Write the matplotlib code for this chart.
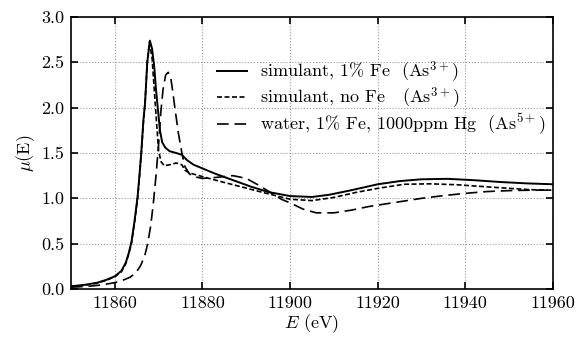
import matplotlib
matplotlib.use('Agg')
import matplotlib.pyplot as plt
import numpy as np

plt.rcParams['font.family'] = 'serif'
plt.rcParams['font.serif'] = ['cmr10']
plt.rcParams['mathtext.fontset'] = 'cm'
plt.rcParams['axes.formatter.use_mathtext'] = True
plt.rcParams['font.size'] = 13

# simulant, 1% Fe (As3+)
E_fe = [11850, 11853, 11856, 11858, 11860, 11861.5, 11862.5, 11863.2, 11863.8, 11864.5,
        11865.2, 11865.7, 11866.1, 11866.5, 11866.9, 11867.4, 11868, 11868.5, 11869, 11869.4,
        11869.8, 11870.3, 11870.8, 11871.5, 11872.5, 11874, 11875.3, 11876.5, 11878, 11880,
        11883, 11887, 11891, 11895, 11900, 11905, 11909, 11914, 11920, 11925,
        11930, 11936, 11942, 11948, 11954, 11960]
mu_fe = [0.03, 0.045, 0.07, 0.10, 0.14, 0.2, 0.29, 0.4, 0.52, 0.75,
         1.02, 1.3, 1.55, 1.85, 2.05, 2.5, 2.74, 2.65, 2.45, 2.2,
         2.0, 1.75, 1.62, 1.56, 1.52, 1.5, 1.48, 1.42, 1.37, 1.33,
         1.27, 1.20, 1.13, 1.07, 1.025, 1.015, 1.04, 1.09, 1.155, 1.19,
         1.21, 1.215, 1.20, 1.18, 1.165, 1.155]

# simulant, no Fe (As3+)
E_nofe = [11850, 11853, 11856, 11858, 11860, 11861.5, 11862.5, 11863.2, 11863.8, 11864.5,
          11865.2, 11865.7, 11866.1, 11866.5, 11866.9, 11867.4, 11867.9, 11868.5, 11869, 11869.5,
          11870, 11870.6, 11871.3, 11872.5, 11874, 11875.3, 11876, 11877, 11878.5, 11880,
          11883, 11887, 11891, 11895, 11900, 11905, 11910, 11915, 11920, 11926,
          11932, 11938, 11944, 11950, 11955, 11960]
mu_nofe = [0.03, 0.04, 0.065, 0.095, 0.135, 0.19, 0.28, 0.39, 0.5, 0.73,
           1.0, 1.28, 1.53, 1.82, 2.05, 2.5, 2.72, 2.55, 2.2, 1.85,
           1.52, 1.4, 1.36, 1.37, 1.39, 1.37, 1.31, 1.28, 1.26, 1.24,
           1.2, 1.15, 1.1, 1.05, 0.99, 0.975, 1.01, 1.065, 1.11, 1.155,
           1.16, 1.15, 1.13, 1.11, 1.095, 1.09]

# water, 1% Fe, 1000ppm Hg (As5+)
E_water = [11850, 11854, 11857, 11860, 11862, 11863.5, 11864.8, 11865.8, 11866.8, 11867.5,
           11868.2, 11868.8, 11869.4, 11870, 11870.5, 11871, 11871.6, 11872.2, 11872.8, 11873.3,
           11873.7, 11874.5, 11875.3, 11876, 11877, 11878, 11880, 11883, 11887, 11890,
           11893, 11896, 11898, 11900, 11903, 11906, 11910, 11914, 11918, 11922,
           11926, 11930, 11935, 11940, 11945, 11950, 11955, 11960]
mu_water = [0.02, 0.03, 0.045, 0.07, 0.1, 0.13, 0.18, 0.25, 0.36, 0.5,
            0.7, 0.95, 1.25, 1.6, 1.95, 2.2, 2.36, 2.39, 2.32, 2.15,
            2.0, 1.72, 1.5, 1.35, 1.27, 1.24, 1.22, 1.23, 1.25, 1.22,
            1.14, 1.05, 0.99, 0.95, 0.88, 0.84, 0.84, 0.87, 0.91, 0.94,
            0.97, 1.0, 1.03, 1.055, 1.075, 1.085, 1.09, 1.09]

fig = plt.figure(figsize=(5.85, 3.37), dpi=100)
ax = fig.add_axes([71/585, 1 - 289/337, 482/585, 272/337])

ax.plot(E_fe, mu_fe, 'k-', lw=1.4, label=r'simulant, 1% Fe  (As$^{3+}$)')
ax.plot(E_nofe, mu_nofe, 'k', ls=(0, (3, 1.5)), lw=1.2, label=r'simulant, no Fe   (As$^{3+}$)')
ax.plot(E_water, mu_water, 'k', ls=(0, (7, 3.5)), lw=1.2, label=r'water, 1% Fe, 1000ppm Hg  (As$^{5+}$)')

ax.set_xlim(11850, 11960)
ax.set_ylim(0, 3.0)
ax.set_xticks([11860, 11880, 11900, 11920, 11940, 11960])
ax.set_yticks(np.arange(0, 3.01, 0.5))
ax.set_yticklabels(['0.0', '0.5', '1.0', '1.5', '2.0', '2.5', '3.0'])
ax.set_xticklabels(['11860', '11880', '11900', '11920', '11940', '11960'])
ax.tick_params(direction='in', top=True, right=True, length=5, width=1.2, pad=5)
for s in ax.spines.values():
    s.set_linewidth(1.2)
ax.grid(True, ls=':', color='0.6', lw=0.8)

ax.set_xlabel(r'$E$ (eV)', labelpad=1)
ax.set_ylabel(r'$\mu$(E)', labelpad=3)

ax.legend(loc='upper left', bbox_to_anchor=(0.288, 0.87), frameon=False,
          handlelength=1.66, handletextpad=0.72, labelspacing=0.05, borderaxespad=0)

fig.savefig('out.png', dpi=100)
